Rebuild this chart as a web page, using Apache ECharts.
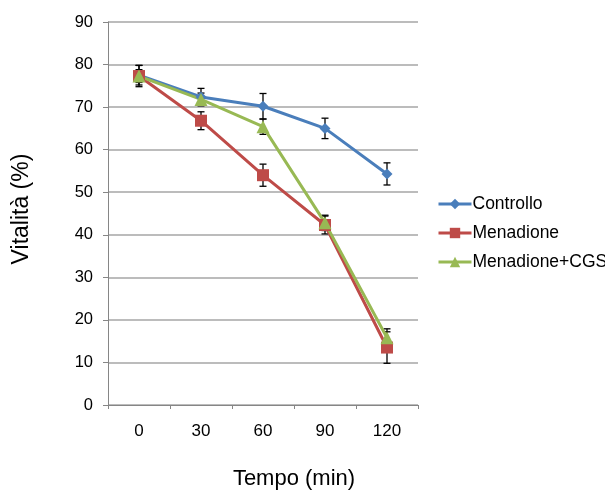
<!DOCTYPE html>
<html><head><meta charset="utf-8">
<script src="https://cdn.jsdelivr.net/npm/echarts@6/dist/echarts.min.js"></script>
<style>html,body{margin:0;padding:0;background:#fff}#c{width:605px;height:490px}</style>
</head><body><div id="c"></div>
<script>
var categories = ['0', '30', '60', '90', '120'];
var controllo = [77.5, 72.4, 70.2, 65.0, 54.3];
var controlloErr = [2.3, 2.0, 3.0, 2.4, 2.6];
var menadione = [77.3, 66.8, 54.0, 42.3, 13.5];
var menadioneErr = [2.5, 2.1, 2.6, 2.1, 3.7];
var menadioneCGS = [77.3, 71.8, 65.4, 42.8, 15.8];
var menadioneCGSErr = [1.5, 1.5, 1.8, 1.8, 2.1];

var colors = ['#4a7ebb', '#be4b48', '#98b954'];
var font = 'Liberation Sans, Arial, sans-serif';

function errData(vals, errs) {
  return vals.map(function (v, i) { return [i, v - errs[i], v + errs[i]]; });
}
function errSeries(vals, errs) {
  return {
    type: 'custom',
    z: 1,
    silent: true,
    data: errData(vals, errs),
    renderItem: function (params, api) {
      var x = api.value(0);
      var lo = api.coord([x, api.value(1)]);
      var hi = api.coord([x, api.value(2)]);
      var w = 3.5;
      var st = { stroke: '#000', lineWidth: 1.3 };
      return {
        type: 'group',
        children: [
          { type: 'line', shape: { x1: lo[0], y1: lo[1], x2: hi[0], y2: hi[1] }, style: st },
          { type: 'line', shape: { x1: lo[0] - w, y1: lo[1], x2: lo[0] + w, y2: lo[1] }, style: st },
          { type: 'line', shape: { x1: hi[0] - w, y1: hi[1], x2: hi[0] + w, y2: hi[1] }, style: st }
        ]
      };
    }
  };
}
function lineSeries(name, vals, color, symbol, size) {
  return {
    name: name, type: 'line', data: vals, z: 3,
    symbol: symbol, symbolSize: size,
    lineStyle: { color: color, width: 3 },
    itemStyle: { color: color },
    emphasis: { disabled: true }
  };
}

var chart = echarts.init(document.getElementById('c'), null, { renderer: 'canvas' });
chart.setOption({
  animation: false,
  backgroundColor: '#fff',
  textStyle: { fontFamily: font },
  grid: { left: 108, right: 187, top: 22, bottom: 85, outerBoundsMode: 'none', containLabel: false },
  legend: {
    orient: 'vertical', left: 437, top: 195, padding: 0,
    itemWidth: 33, itemHeight: 13, itemGap: 11,
    lineStyle: { width: 3 },
    textStyle: { fontFamily: font, fontSize: 17.5, color: '#000', padding: [0, 0, 0, -4] },
    data: ['Controllo', 'Menadione', 'Menadione+CGS']
  },
  xAxis: {
    type: 'category', data: categories, boundaryGap: true,
    name: 'Tempo (min)', nameLocation: 'middle', nameGap: 63,
    nameTextStyle: { fontFamily: font, fontSize: 22, color: '#000', padding: [0, 0, 0, 62] },
    axisLine: { show: true, lineStyle: { color: '#868686', width: 1 } },
    axisTick: { show: true, length: 4, lineStyle: { color: '#868686' } },
    axisLabel: { fontFamily: font, fontSize: 17, color: '#000', margin: 18 },
    splitLine: { show: false }
  },
  yAxis: {
    type: 'value', min: 0, max: 90, interval: 10,
    name: 'Vitalità (%)', nameLocation: 'middle', nameGap: 75, nameRotate: 90,
    nameTextStyle: { fontFamily: font, fontSize: 23, color: '#000', padding: [0, 0, 0, 9] },
    axisLine: { show: true, lineStyle: { color: '#868686', width: 1 } },
    axisTick: { show: true, length: 5, lineStyle: { color: '#868686' } },
    axisLabel: { fontFamily: font, fontSize: 16.5, color: '#000', margin: 15 },
    splitLine: { show: true, lineStyle: { color: '#a6a6a6', width: 1.5 } }
  },
  series: [
    errSeries(controllo, controlloErr),
    errSeries(menadione, menadioneErr),
    errSeries(menadioneCGS, menadioneCGSErr),
    lineSeries('Controllo', controllo, colors[0], 'diamond', 11),
    lineSeries('Menadione', menadione, colors[1], 'rect', 12),
    lineSeries('Menadione+CGS', menadioneCGS, colors[2], 'triangle', 13)
  ]
});
</script></body></html>
